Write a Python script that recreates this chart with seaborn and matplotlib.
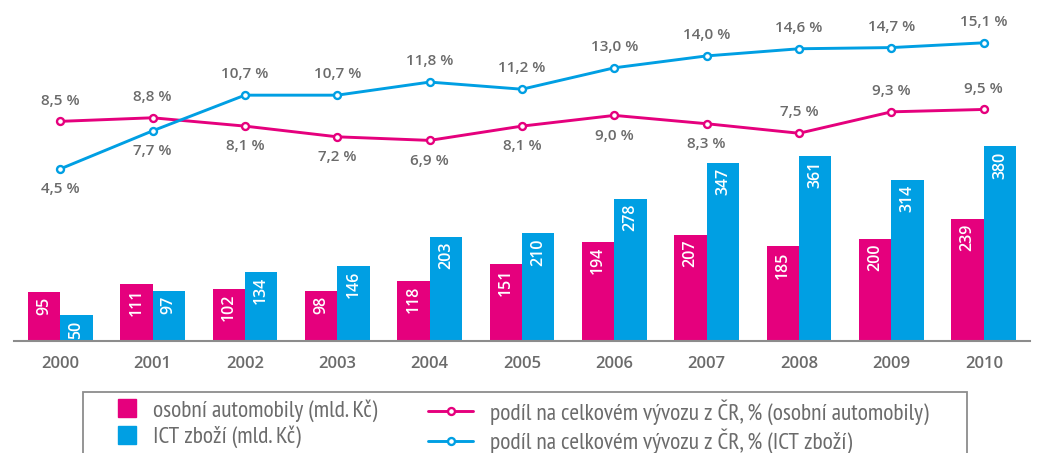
import numpy as np
import pandas as pd
import matplotlib
matplotlib.use("Agg")
import matplotlib.pyplot as plt
import seaborn as sns
from matplotlib.lines import Line2D
from matplotlib.patches import Rectangle
from matplotlib.font_manager import FontProperties

years = ["2000", "2001", "2002", "2003", "2004", "2005", "2006", "2007", "2008", "2009", "2010"]
cars_bn = [95, 111, 102, 98, 118, 151, 194, 207, 185, 200, 239]
ict_bn = [50, 97, 134, 146, 203, 210, 278, 347, 361, 314, 380]
cars_share = [8.5, 8.8, 8.1, 7.2, 6.9, 8.1, 9.0, 8.3, 7.5, 9.3, 9.5]
ict_share = [4.5, 7.7, 10.7, 10.7, 11.8, 11.2, 13.0, 14.0, 14.6, 14.7, 15.1]
# label position: +1 above point, -1 below point
cars_lab_pos = [1, 1, -1, -1, -1, -1, -1, -1, 1, 1, 1]
ict_lab_pos = [-1, -1, 1, 1, 1, 1, 1, 1, 1, 1, 1]

bar_series = ["osobní automobily (mld. Kč)", "ICT zboží (mld. Kč)"]
line_series = ["podíl na celkovém vývozu z ČR, % (osobní automobily)",
               "podíl na celkovém vývozu z ČR, % (ICT zboží)"]

MAG = "#E5007D"
BLU = "#009FE3"
GRAY_T = "#6B6B6B"
GRAY_A = "#8C8C8C"

sns.set_style("white")
plt.rcParams["font.family"] = ["Open Sans", "DejaVu Sans"]

W, H = 1037, 453
fig = plt.figure(figsize=(W / 100, H / 100), dpi=100)
ax = fig.add_axes([14 / W, (H - 341) / H, (1030 - 14) / W, 341 / H])

df = pd.DataFrame({
    "year": years * 2,
    "value": cars_bn + ict_bn,
    "series": [bar_series[0]] * len(years) + [bar_series[1]] * len(years),
})
sns.barplot(data=df, x="year", y="value", hue="series", palette=[MAG, BLU],
            width=0.7, saturation=1, legend=False, linewidth=0, edgecolor="none", ax=ax)
ax.set_xlim(-0.5, len(years) - 0.5)
ax.set_ylim(0, 666)
ax.set_xlabel("")
ax.set_ylabel("")
ax.set_yticks([])
for s in ["top", "left", "right"]:
    ax.spines[s].set_visible(False)
ax.spines["bottom"].set_color(GRAY_A)
ax.spines["bottom"].set_linewidth(1.5)
ax.set_xticks(np.arange(len(years)))
ax.set_xticklabels(years)
ax.set_xticks(np.arange(len(years) + 1) - 0.5, minor=True)
ax.tick_params(axis="x", which="major", length=0, pad=11, labelsize=12, labelcolor=GRAY_T)
ax.tick_params(axis="x", which="minor", direction="in", length=5, width=1.3, color=GRAY_A)
for t in ax.get_xticklabels():
    t.set_fontweight("semibold")

for cont in ax.containers:
    for p in cont.patches:
        v = p.get_height()
        ax.annotate(f"{v:.0f}", (p.get_x() + p.get_width() / 2, v),
                    xytext=(0, -3.5), textcoords="offset points",
                    ha="center", va="top", rotation=90, color="white",
                    fontsize=11.5, fontweight="semibold")

ax2 = ax.twinx()
ax2.set_ylim(-118.5 / 11.9, (341 - 118.5) / 11.9)
xs = np.arange(len(years))
sns.lineplot(x=xs, y=cars_share, color=MAG, lw=2.1, marker="o", ms=5,
             mfc="white", mec=MAG, mew=1.7, ax=ax2)
sns.lineplot(x=xs, y=ict_share, color=BLU, lw=2.1, marker="o", ms=5,
             mfc="white", mec=BLU, mew=1.7, ax=ax2)
ax2.set_yticks([])
for s in ["top", "left", "right", "bottom"]:
    ax2.spines[s].set_visible(False)

for vals, pos in [(cars_share, cars_lab_pos), (ict_share, ict_lab_pos)]:
    for i, (v, sgn) in enumerate(zip(vals, pos)):
        off = 15 if sgn > 0 else -14.5
        ax2.annotate(f"{v:.1f} %".replace(".", ","), (i, v), xytext=(0, off),
                     textcoords="offset points", ha="center", va="center",
                     fontsize=11, fontweight="semibold", color=GRAY_T)

# legend box
fig.patches.append(Rectangle((83 / W, -0.05), (967 - 83) / W, (H - 392) / H + 0.05,
                             transform=fig.transFigure, fill=False,
                             edgecolor=GRAY_A, lw=1.3))

# fit legend font so that the first label is ~225 px wide
fam = ["PT Sans Narrow", "Open Sans"]
renderer = fig.canvas.get_renderer()
probe = fig.text(0, 0, bar_series[0], fontproperties=FontProperties(family=fam, size=15))
wpx = probe.get_window_extent(renderer).width
probe.remove()
FS = 15 * 225 / wpx
lp = FontProperties(family=fam, size=FS)
em = FS * 100 / 72
row_h = 0.97 * em
ls = max((27 - row_h) / em, 0.0)
h1 = [Line2D([], [], ls="", marker="s", ms=13.5, color=MAG),
      Line2D([], [], ls="", marker="s", ms=13.5, color=BLU)]
h2 = [Line2D([], [], color=MAG, lw=2.1, marker="o", ms=5, mfc="white", mec=MAG, mew=1.7),
      Line2D([], [], color=BLU, lw=2.1, marker="o", ms=5, mfc="white", mec=BLU, mew=1.7)]
ytop = (H - (409 - 0.43 * em)) / H
leg1 = fig.legend(h1, bar_series, loc="upper left", bbox_to_anchor=(111.5 / W, ytop),
                  frameon=False, prop=lp, handlelength=30 / em, handletextpad=11.5 / em,
                  labelspacing=ls, borderpad=0, borderaxespad=0, labelcolor=GRAY_T)
leg2 = fig.legend(h2, line_series, loc="upper left", bbox_to_anchor=(428 / W, ytop),
                  frameon=False, prop=lp, handlelength=45 / em, handletextpad=17 / em,
                  labelspacing=ls, borderpad=0, borderaxespad=0, labelcolor=GRAY_T)

fig.savefig("out.png", dpi=100)
